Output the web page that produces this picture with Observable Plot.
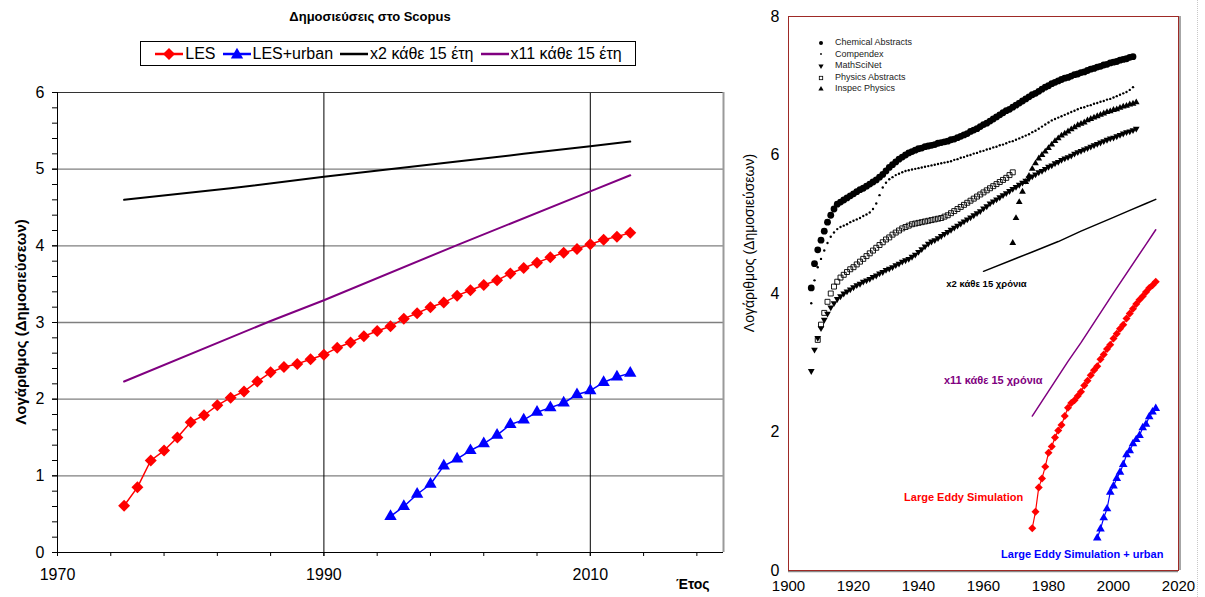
<!DOCTYPE html>
<html>
<head>
<meta charset="utf-8">
<script src="https://cdn.jsdelivr.net/npm/d3@7"></script>
<script src="https://cdn.jsdelivr.net/npm/@observablehq/plot@0.6"></script>
<style>
  body { margin: 0; width: 1205px; height: 597px; position: relative; overflow: hidden; background: #fff;
         font-family: "Liberation Sans", Arial, sans-serif; color: #000; }
  .abs { position: absolute; }
  .vlabel { position: absolute; transform: translate(-50%, -50%) rotate(-90deg); white-space: nowrap; }
  #legendL { position: absolute; left: 140px; top: 41px; width: 496px; height: 25px; border: 1px solid #000;
             display: flex; align-items: center; justify-content: center; gap: 6px; font-size: 16px; box-sizing: border-box; }
  #legendL .item { display: flex; align-items: center; gap: 1px; }
  #legendR { position: absolute; left: 817px; top: 37px; font-size: 9px; color: #222; line-height: 11.6px; }
  #legendR .row { display: flex; align-items: center; gap: 10px; }
</style>
</head>
<body>
<div id="left" class="abs" style="left:0;top:0"></div>
<div id="right" class="abs" style="left:730px;top:0"></div>
<div class="abs" style="left:1197px;top:0;height:597px;border-left:1px dotted #c8c8c8"></div>

<div class="abs" style="left:0;width:740px;top:9px;text-align:center;font-weight:bold;font-size:13px">Δημοσιεύσεις στο Scopus</div>
<div id="legendL"></div>
<div class="vlabel" style="left:20px;top:322px;font-weight:bold;font-size:15px">Λογάριθμος (Δημοσιεύσεων)</div>
<div class="abs" style="left:676px;top:576px;font-weight:bold;font-size:14px">Έτος</div>

<div class="vlabel" style="left:749px;top:243px;font-size:14px">Λογάριθμος (Δημοσιεύσεων)</div>
<div id="legendR"></div>

<script>
// Scopus publications, log10 of yearly counts
const lesStart = 1975;
const lesValues = [0.61, 0.85, 1.20, 1.33, 1.50, 1.70, 1.79, 1.92, 2.02, 2.10,
                   2.23, 2.35, 2.42, 2.46, 2.52, 2.58, 2.67, 2.74, 2.82, 2.89,
                   2.95, 3.05, 3.12, 3.20, 3.26, 3.35, 3.42, 3.49, 3.55, 3.64,
                   3.71, 3.78, 3.85, 3.91, 3.96, 4.02, 4.08, 4.12, 4.17];
const urbanStart = 1995;
const urbanValues = [0.47, 0.60, 0.76, 0.89, 1.13, 1.22, 1.33, 1.42, 1.53, 1.67,
                     1.73, 1.83, 1.89, 1.95, 2.06, 2.11, 2.22, 2.29, 2.34];

// Reference growth lines: x2 and x11 every 15 years
const doublingYears = [1960, 1975, 1983, 1990, 2000, 2005, 2010, 2013];
const doublingValues = [4.32, 4.60, 4.75, 4.90, 5.10, 5.20, 5.30, 5.36];
const elevenfoldYears = [1975, 1986, 1990, 2000, 2010, 2013];
const elevenfoldValues = [2.23, 3.02, 3.29, 4.01, 4.71, 4.92];

// Abstracting services, log10 of cumulative records
const chemicalStart = 1907;
const chemicalValues = [4.08, 4.43, 4.63, 4.77, 4.90, 5.03, 5.13, 5.22, 5.29, 5.32,
                        5.35, 5.38, 5.41, 5.44, 5.47, 5.50, 5.52, 5.55, 5.58, 5.61,
                        5.64, 5.68, 5.72, 5.77, 5.82, 5.86, 5.90, 5.94, 5.97, 6.00,
                        6.03, 6.05, 6.07, 6.09, 6.10, 6.12, 6.13, 6.14, 6.15, 6.17,
                        6.18, 6.19, 6.20, 6.22, 6.23, 6.25, 6.27, 6.29, 6.31, 6.34,
                        6.36, 6.38, 6.41, 6.44, 6.46, 6.49, 6.52, 6.55, 6.58, 6.61,
                        6.64, 6.66, 6.69, 6.72, 6.75, 6.78, 6.81, 6.84, 6.87, 6.89,
                        6.92, 6.95, 6.98, 7.00, 7.03, 7.05, 7.07, 7.09, 7.11, 7.12,
                        7.14, 7.16, 7.17, 7.19, 7.20, 7.22, 7.24, 7.25, 7.27, 7.28,
                        7.30, 7.31, 7.33, 7.34, 7.35, 7.37, 7.38, 7.39, 7.41, 7.42];
const compendexStart = 1907;
const compendexValues = [3.86, 4.19, 4.38, 4.50, 4.62, 4.73, 4.82, 4.88, 4.93, 4.96,
                         4.98, 5.00, 5.03, 5.05, 5.07, 5.09, 5.12, 5.14, 5.17, 5.22,
                         5.30, 5.42, 5.53, 5.60, 5.65, 5.68, 5.71, 5.73, 5.75, 5.77,
                         5.78, 5.79, 5.80, 5.81, 5.82, 5.83, 5.84, 5.85, 5.86, 5.87,
                         5.88, 5.89, 5.90, 5.91, 5.93, 5.94, 5.96, 5.97, 5.99, 6.00,
                         6.02, 6.03, 6.05, 6.06, 6.08, 6.09, 6.11, 6.12, 6.14, 6.15,
                         6.17, 6.19, 6.20, 6.22, 6.24, 6.26, 6.28, 6.30, 6.33, 6.35,
                         6.38, 6.41, 6.44, 6.47, 6.50, 6.52, 6.54, 6.56, 6.58, 6.60,
                         6.62, 6.64, 6.66, 6.68, 6.69, 6.71, 6.72, 6.74, 6.75, 6.77,
                         6.78, 6.80, 6.81, 6.83, 6.85, 6.87, 6.89, 6.91, 6.94, 6.98];
const mathSciNetStart = 1907;
const mathSciNetValues = [2.88, 3.19, 3.36, 3.50, 3.62, 3.71, 3.80, 3.86, 3.92, 3.96,
                          4.00, 4.03, 4.06, 4.09, 4.12, 4.14, 4.17, 4.19, 4.21, 4.24,
                          4.26, 4.29, 4.31, 4.34, 4.36, 4.38, 4.41, 4.43, 4.46, 4.48,
                          4.50, 4.53, 4.56, 4.60, 4.64, 4.68, 4.72, 4.75, 4.77, 4.80,
                          4.83, 4.86, 4.89, 4.92, 4.95, 4.98, 5.01, 5.04, 5.07, 5.10,
                          5.13, 5.16, 5.19, 5.23, 5.26, 5.30, 5.33, 5.36, 5.39, 5.42,
                          5.45, 5.48, 5.51, 5.54, 5.57, 5.60, 5.63, 5.66, 5.69, 5.72,
                          5.75, 5.77, 5.80, 5.83, 5.85, 5.88, 5.90, 5.93, 5.95, 5.97,
                          5.99, 6.02, 6.04, 6.06, 6.08, 6.10, 6.12, 6.14, 6.16, 6.18,
                          6.20, 6.22, 6.24, 6.25, 6.27, 6.29, 6.31, 6.33, 6.34, 6.36, 6.38];
const physicsStart = 1909;
const physicsValues = [3.33, 3.55, 3.72, 3.88, 4.00, 4.10, 4.17, 4.23, 4.27, 4.31,
                       4.35, 4.38, 4.42, 4.46, 4.50, 4.54, 4.58, 4.62, 4.66, 4.70,
                       4.74, 4.78, 4.81, 4.85, 4.88, 4.91, 4.94, 4.96, 4.98, 5.00,
                       5.01, 5.02, 5.03, 5.04, 5.05, 5.06, 5.07, 5.08, 5.09, 5.11,
                       5.13, 5.16, 5.19, 5.22, 5.25, 5.28, 5.31, 5.34, 5.37, 5.40,
                       5.43, 5.46, 5.49, 5.52, 5.55, 5.58, 5.61, 5.64, 5.67, 5.71, 5.75];
const inspecStart = 1969;
const inspecValues = [4.73, 5.09, 5.32, 5.47, 5.61, 5.70, 5.80, 5.88, 5.95, 6.00,
                      6.05, 6.10, 6.15, 6.20, 6.24, 6.28, 6.31, 6.34, 6.37, 6.40,
                      6.43, 6.45, 6.47, 6.50, 6.52, 6.54, 6.56, 6.58, 6.60, 6.62,
                      6.63, 6.65, 6.66, 6.68, 6.70, 6.71, 6.73, 6.74, 6.76];

const leftLegendLabels = ["LES", "LES+urban", "x2 κάθε 15 έτη", "x11 κάθε 15 έτη"];
const rightLegendLabels = ["Chemical Abstracts", "Compendex", "MathSciNet", "Physics Abstracts", "Inspec Physics"];

const RED = "#ff0000", BLUE = "#0000ff", PURPLE = "#800080";

const yearly = (start, values) => values.map((value, i) => ({year: start + i, value}));
const paired = (years, values) => years.map((year, i) => ({year, value: values[i]}));

const les = yearly(lesStart, lesValues);
const urban = yearly(urbanStart, urbanValues);
const doubling = paired(doublingYears, doublingValues);
const elevenfold = paired(elevenfoldYears, elevenfoldValues);
const chemical = yearly(chemicalStart, chemicalValues);
const compendex = yearly(compendexStart, compendexValues);
const mathSciNet = yearly(mathSciNetStart, mathSciNetValues);
const physics = yearly(physicsStart, physicsValues);
const inspec = yearly(inspecStart, inspecValues);

const xy = {x: "year", y: "value"};
const font = "'Liberation Sans', Arial, sans-serif";

// Left chart: Scopus counts since 1975
const left = Plot.plot({
  width: 730, height: 597,
  marginTop: 92, marginBottom: 45, marginLeft: 57, marginRight: 7,
  x: {domain: [1970, 2020]},
  y: {domain: [0, 6]},
  style: {fontFamily: font, fontSize: "16px", color: "#000", background: "transparent", overflow: "visible"},
  marks: [
    Plot.ruleY([1, 2, 3, 4, 5], {stroke: "#7f7f7f", strokeWidth: 1.3}),
    Plot.ruleX([1990, 2010], {stroke: "#000", strokeWidth: 1}),
    Plot.ruleY([6], {stroke: "#333", strokeWidth: 1}),
    Plot.ruleX([2020], {stroke: "#9a9a9a", strokeWidth: 2}),
    Plot.axisY({ticks: d3.range(0, 31).map(i => i / 5), tickSize: 5, tickFormat: () => "", label: null}),
    Plot.axisY({ticks: [0, 1, 2, 3, 4, 5, 6], tickSize: 5, tickPadding: 8, tickFormat: d => String(d), label: null}),
    Plot.axisX({ticks: d3.range(1970, 2019, 4), tickSize: 4, tickFormat: () => "", label: null}),
    Plot.axisX({ticks: [1970, 1990, 2010], tickSize: 4, tickPadding: 12, tickFormat: d => String(d), label: null}),
    Plot.ruleX([1970], {stroke: "#000"}),
    Plot.ruleY([0], {stroke: "#000"}),
    Plot.line(doubling.filter(d => d.year >= 1975), {...xy, stroke: "#000", strokeWidth: 2}),
    Plot.line(elevenfold, {...xy, stroke: PURPLE, strokeWidth: 2}),
    Plot.line(les, {...xy, stroke: RED, strokeWidth: 1.5}),
    Plot.dot(les, {...xy, symbol: "diamond2", r: 5.4, fill: RED}),
    Plot.line(urban, {...xy, stroke: BLUE, strokeWidth: 1.5}),
    Plot.dot(urban, {...xy, symbol: "triangle", r: 4.6, fill: BLUE})
  ]
});
document.getElementById("left").append(left);

// Right chart: long-run growth of abstracting services against the LES curves
const first = arr => [arr[0]];
const right = Plot.plot({
  width: 475, height: 597,
  marginTop: 16, marginBottom: 27, marginLeft: 58, marginRight: 27,
  x: {domain: [1900, 2020]},
  y: {domain: [0, 8]},
  style: {fontFamily: font, fontSize: "16px", color: "#000", background: "transparent", overflow: "visible"},
  marks: [
    Plot.ruleX([2020], {stroke: "#888", strokeWidth: 1.5, dx: 1.5}),
    Plot.ruleY([0], {stroke: "#888", strokeWidth: 1.5, dy: 1}),
    Plot.frame({stroke: "#9e2a26", strokeWidth: 1}),
    Plot.axisX({ticks: d3.range(1900, 2021, 20), tickSize: 0, tickPadding: 10, fontSize: 15, tickFormat: d => String(d), label: null}),
    Plot.axisY({ticks: [0, 2, 4, 6, 8], tickSize: 0, tickPadding: 9, fontSize: 16, tickFormat: d => String(d), label: null}),
    Plot.dot(chemical, {...xy, r: 3.4, fill: "#000"}),
    Plot.dot(compendex, {...xy, r: 1.2, fill: "#000"}),
    Plot.dot(mathSciNet, {...xy, symbol: "triangle", rotate: 180, r: 2.5, fill: "#000"}),
    Plot.dot(physics, {...xy, symbol: "square", r: 2.8, fill: "none", stroke: "#000", strokeWidth: 0.9}),
    Plot.dot(inspec, {...xy, symbol: "triangle", r: 2.5, fill: "#000"}),
    Plot.line(doubling, {...xy, stroke: "#000", strokeWidth: 1.5}),
    Plot.line(elevenfold, {...xy, stroke: PURPLE, strokeWidth: 1.5}),
    Plot.line(les, {...xy, stroke: RED, strokeWidth: 1.2}),
    Plot.dot(les, {...xy, symbol: "diamond2", r: 3.6, fill: RED}),
    Plot.line(urban, {...xy, stroke: BLUE, strokeWidth: 1.2}),
    Plot.dot(urban, {...xy, symbol: "triangle", r: 3.2, fill: BLUE}),
    Plot.text(first(doubling), {...xy, text: () => "x2 κάθε 15 χρόνια", dx: 3, dy: 12.5, fontSize: 9.5, fontWeight: "bold", fill: "#000"}),
    Plot.text(first(elevenfold), {...xy, text: () => "x11 κάθε 15 χρόνια", dx: -39, dy: -36, fontSize: 11, fontWeight: "bold", fill: PURPLE}),
    Plot.text(first(les), {...xy, text: () => "Large Eddy Simulation", textAnchor: "end", dx: -9, dy: -31, fontSize: 11, fontWeight: "bold", fill: RED}),
    Plot.text(first(urban), {...xy, text: () => "Large Eddy Simulation + urban", dx: -15, dy: 17, fontSize: 11, fontWeight: "bold", fill: BLUE})
  ]
});
document.getElementById("right").append(right);

// Legends
const sym = (type, size) => d3.symbol(type, size)();
const leftSwatches = [
  {stroke: RED, marker: `<path transform="translate(15,7)" d="${sym(d3.symbolDiamond2, 92)}" fill="${RED}"/>`},
  {stroke: BLUE, marker: `<path transform="translate(15,8)" d="${sym(d3.symbolTriangle, 66)}" fill="${BLUE}"/>`},
  {stroke: "#000", marker: ""},
  {stroke: PURPLE, marker: ""}
];
document.getElementById("legendL").innerHTML = leftLegendLabels.map((label, i) =>
  `<div class="item"><svg width="30" height="14"><line x1="1" x2="29" y1="7" y2="7" stroke="${leftSwatches[i].stroke}" stroke-width="2.5"/>${leftSwatches[i].marker}</svg><span>${label}</span></div>`
).join("");

const rightMarkers = [
  `<circle cx="4" cy="4" r="2" fill="#000"/>`,
  `<circle cx="4" cy="4" r="0.9" fill="#000"/>`,
  `<path transform="translate(4,4) rotate(180)" d="${sym(d3.symbolTriangle, 12)}" fill="#000"/>`,
  `<rect x="2.3" y="2.3" width="3.4" height="3.4" fill="none" stroke="#000" stroke-width="0.8"/>`,
  `<path transform="translate(4,4)" d="${sym(d3.symbolTriangle, 12)}" fill="#000"/>`
];
document.getElementById("legendR").innerHTML = rightLegendLabels.map((label, i) =>
  `<div class="row"><svg width="8" height="8">${rightMarkers[i]}</svg><span>${label}</span></div>`
).join("");
</script>
</body>
</html>
